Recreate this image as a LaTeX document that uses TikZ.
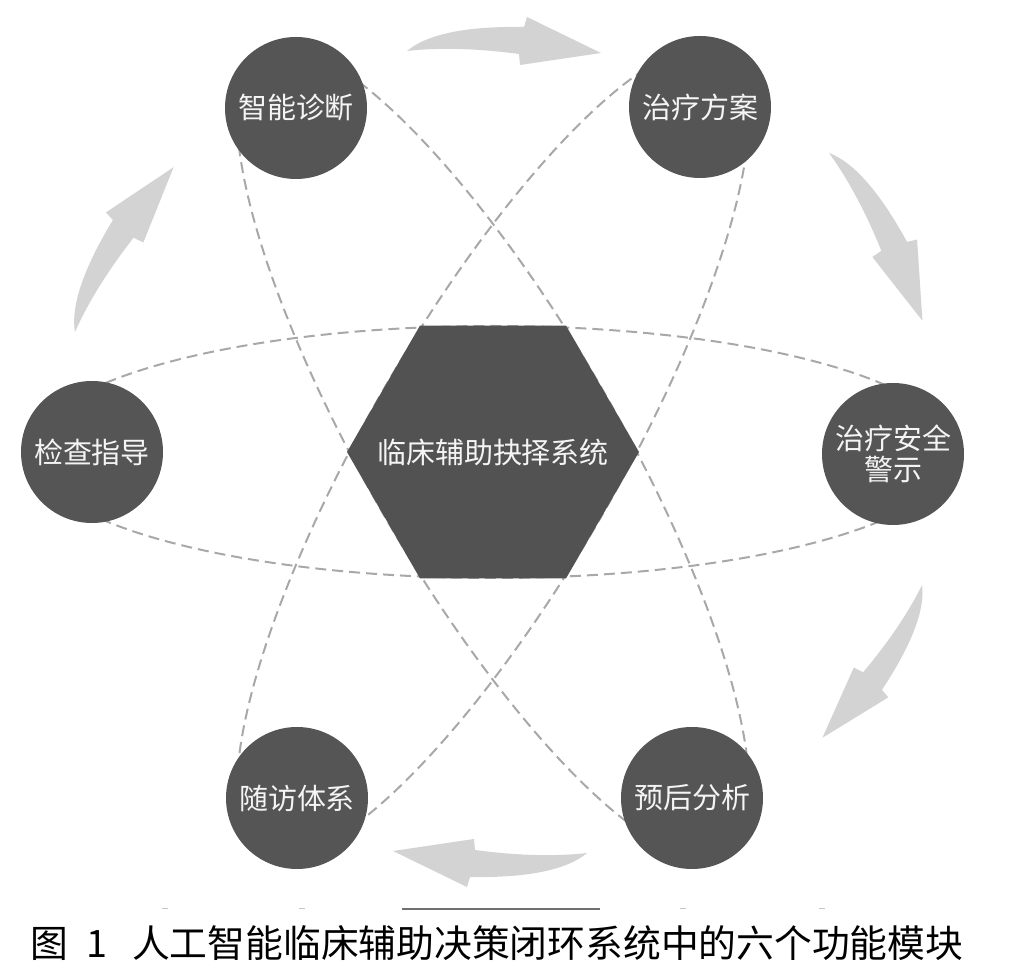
\documentclass[tikz,border=0pt]{standalone}
\usepackage{fontspec}
\setmainfont{Noto Sans CJK SC}
\usetikzlibrary{shapes.geometric, backgrounds}
\definecolor{modfill}{HTML}{555555}
\definecolor{modtext}{HTML}{F4F4F4}
\definecolor{orbitgray}{HTML}{A8A8A8}
\definecolor{flowgray}{HTML}{D3D3D3}
\definecolor{rulegray}{HTML}{707070}

\begin{document}
\begin{tikzpicture}[
  x=0.2mm, y=0.2mm,
  module/.style={circle, fill=modfill, text=modtext, minimum size=28.4mm,
                 inner sep=0pt, align=center, font=\fontsize{16.5}{18}\selectfont},
  hub/.style={regular polygon, regular polygon sides=6, fill=modfill!97!black,
              minimum size=58.4mm, inner sep=0pt},
  orbit/.style={draw=orbitgray, line width=0.4mm, dash pattern=on 2.2mm off 1.2mm},
  cyclearrow/.pic={
    \fill[flowgray] (0,0) .. controls (20,17) and (60,25) .. (117,24)
      -- (120,34) -- (194,-2) -- (113,-14) -- (112,-3)
      .. controls (75,2) and (35,4) .. cycle;
  }
]
\useasboundingbox (0,0) rectangle (1027,975);

\node[hub, label={[text=modtext, font=\fontsize{16.5}{18}\selectfont]center:临床辅助抉择系统}]
  (core) at (493,523) {};

\node[module] (diag)   at (296,867) {智能诊断};
\node[module] (plan)   at (700,868) {治疗方案};
\node[module] (safe)   at (893,521) {治疗安全\\警示};
\node[module] (prog)   at (692,177) {预后分析};
\node[module] (follow) at (297,177) {随访体系};
\node[module] (check)  at (92,523)  {检查指导};

\begin{scope}[on background layer]
  \foreach \ang in {0,60,120}
    \draw[orbit] (core.center) circle [x radius=463, y radius=126, rotate=\ang];
\end{scope}

\pic[rotate=0] at (407,924) {cyclearrow};
\pic[rotate=-60.3, scale=0.99] at (829,822) {cyclearrow};
\pic[rotate=-122.5, scale=0.94] at (922,390) {cyclearrow};
\pic[rotate=180] at (587,122) {cyclearrow};
\pic[rotate=59.7, scale=0.99] at (75,643) {cyclearrow};

\draw[rulegray, line width=0.3mm] (402,66) -- (600,66);
\foreach \tx in {165,302,683,822}
  \draw[rulegray!40, line width=0.2mm] (\tx-3,66) -- (\tx+3,66);

\node[anchor=west, inner sep=0pt, font=\fontsize{21.5}{22}\selectfont] (caption) at (30,32)
  {图\hspace{3.6mm}1\hspace{5mm}人工智能临床辅助决策闭环系统中的六个功能模块};

\end{tikzpicture}
\end{document}
